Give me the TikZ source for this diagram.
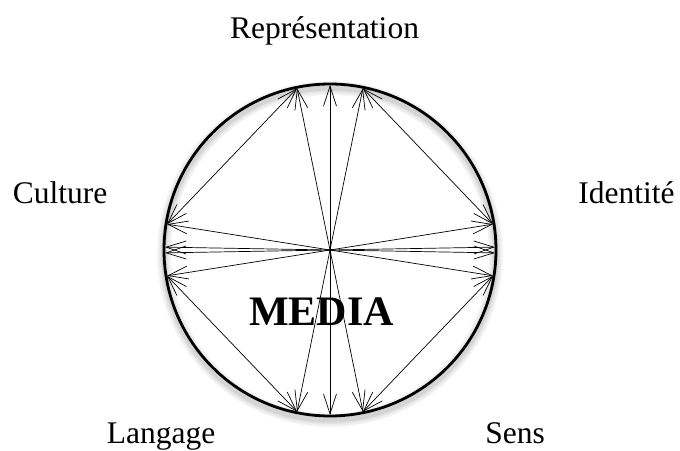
\documentclass[tikz,border=0pt]{standalone}
\usepackage{fontspec}
\setmainfont{Liberation Serif}
\usepackage{tikz}
\usetikzlibrary{arrows.meta, calc}

\begin{document}
\begin{tikzpicture}[x=1pt, y=-1pt, >={Straight Barb[length=20pt, width=13pt]},
    lien/.style={<->, line width=0.7pt},
    mot/.style={font=\fontsize{31.5}{36}\selectfont, anchor=base, inner sep=0pt}]
    \useasboundingbox (0,0) rectangle (680,450);

    % Centre du cercle
    \coordinate (c) at (330,250);

    % Ombre floue sous le cercle
    \foreach \w/\g in {14/4, 11/7, 8/11, 5/17}
        \draw[line width=\w pt, black!\g] ($(c)+(0,4)$) circle[radius=166pt];
    \draw[line width=2.8pt] (c) circle[radius=166pt];

    % Points sur le cercle : haut, bas, gauche, droite
    \coordinate (h1) at ($(c)+(101.5:165pt)$);
    \coordinate (h2) at ($(c)+(90:165pt)$);
    \coordinate (h3) at ($(c)+(78.5:165pt)$);
    \coordinate (b1) at ($(c)+(258.5:165pt)$);
    \coordinate (b2) at ($(c)+(270:165pt)$);
    \coordinate (b3) at ($(c)+(281.5:165pt)$);
    \coordinate (g1) at ($(c)+(171:165pt)$);
    \coordinate (g2) at ($(c)+(179:165pt)$);
    \coordinate (g3) at ($(c)+(181:165pt)$);
    \coordinate (g4) at ($(c)+(189:165pt)$);
    \coordinate (d1) at ($(c)+(9:165pt)$);
    \coordinate (d2) at ($(c)+(1:165pt)$);
    \coordinate (d3) at ($(c)+(359:165pt)$);
    \coordinate (d4) at ($(c)+(351:165pt)$);

    % Traits passant par le centre
    \draw[lien] (h1) -- (b3);
    \draw[lien] (h2) -- (b2);
    \draw[lien] (h3) -- (b1);
    \draw[lien] (g1) -- (d4);
    \draw[lien] (g2) -- (d3);
    \draw[lien] (g3) -- (d2);
    \draw[lien] (g4) -- (d1);

    % Cordes entre les groupes voisins
    \draw[lien] (h1) -- (g1);
    \draw[lien] (h3) -- (d1);
    \draw[lien] (b1) -- (g4);
    \draw[lien] (b3) -- (d4);

    % Mots
    \node[font=\fontsize{42}{48}\selectfont\bfseries, anchor=base, inner sep=0pt] (media) at (321.5,325) {MEDIA};
    \node[mot] (repr) at (324.5,38) {Représentation};
    \node[mot] (cult) at (60,203) {Culture};
    \node[mot] (iden) at (626.5,203) {Identité};
    \node[mot] (lang) at (161,443) {Langage};
    \node[mot] (sens) at (515,443) {Sens};
\end{tikzpicture}
\end{document}
